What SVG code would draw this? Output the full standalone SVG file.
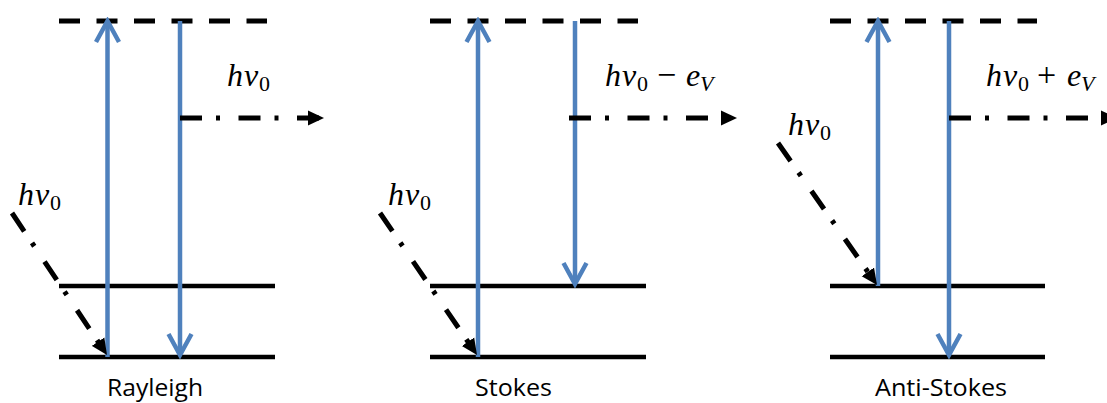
<svg xmlns="http://www.w3.org/2000/svg" width="1107" height="403" viewBox="0 0 1107 403">
<style>
.lvl{stroke:#000;stroke-width:4.5;fill:none}
.virt{stroke:#000;stroke-width:5;fill:none;stroke-dasharray:21 16.5}
.tr{stroke:#4F81BD;stroke-width:4.5;fill:none}
.ph{stroke:#000;stroke-width:5;fill:none;stroke-dasharray:22 14 4 18.5}
.m{font-family:"Liberation Serif",serif;font-style:italic;font-size:32px;fill:#000}
.sub{font-family:"Liberation Serif",serif;font-style:normal;font-size:22px}
.subi{font-family:"Liberation Serif",serif;font-style:italic;font-size:22px}
.op{font-style:normal;font-size:34px}
.cap{font-family:"Open Sans","Liberation Sans",sans-serif;font-size:24px;fill:#000}
</style>
<defs>
<marker id="tri" markerUnits="userSpaceOnUse" viewBox="0 0 16 16" refX="16" refY="8" markerWidth="16" markerHeight="16" orient="auto">
<path d="M0,0.5 L16,8 L0,15.5 Z" fill="#000"/>
</marker>
<marker id="chev" markerUnits="userSpaceOnUse" viewBox="-26 -16 30 32" refX="0" refY="0" markerWidth="30" markerHeight="32" orient="auto">
<path d="M-21,-11.5 L0,0 L-21,11.5" fill="none" stroke="#4F81BD" stroke-width="4.5"/>
</marker>
</defs>

<g id="rayleigh">
<line class="virt" x1="59" y1="21" x2="267" y2="21"/>
<line class="lvl" x1="59" y1="286" x2="275" y2="286"/>
<line class="lvl" x1="59" y1="357" x2="275" y2="357"/>
<text class="m" y="86"><tspan x="227">h</tspan><tspan x="244">v</tspan><tspan class="sub" x="259" dy="5">0</tspan></text>
<text class="m" y="205"><tspan x="18">h</tspan><tspan x="35">v</tspan><tspan class="sub" x="50" dy="5">0</tspan></text>
<text class="cap" x="107" y="396" textLength="96" lengthAdjust="spacingAndGlyphs">Rayleigh</text>
</g>

<g id="stokes">
<line class="virt" x1="430" y1="21" x2="638" y2="21"/>
<line class="lvl" x1="430" y1="286" x2="646" y2="286"/>
<line class="lvl" x1="430" y1="357" x2="646" y2="357"/>
<text class="m" y="86"><tspan x="605">h</tspan><tspan x="622">v</tspan><tspan class="sub" x="637" dy="5">0</tspan><tspan class="op" x="657" dy="-5">−</tspan><tspan x="686">e</tspan><tspan class="subi" x="700" dy="5">V</tspan></text>
<text class="m" y="205"><tspan x="388">h</tspan><tspan x="405">v</tspan><tspan class="sub" x="420" dy="5">0</tspan></text>
<text class="cap" x="475" y="396" textLength="77" lengthAdjust="spacingAndGlyphs">Stokes</text>
</g>

<g id="anti-stokes">
<line class="virt" x1="830" y1="21" x2="1037" y2="21"/>
<line class="lvl" x1="830" y1="286" x2="1045" y2="286"/>
<line class="lvl" x1="830" y1="357" x2="1045" y2="357"/>
<text class="m" y="86"><tspan x="986">h</tspan><tspan x="1003">v</tspan><tspan class="sub" x="1018" dy="5">0</tspan><tspan class="op" x="1037" dy="-5">+</tspan><tspan x="1067">e</tspan><tspan class="subi" x="1081" dy="5">V</tspan></text>
<text class="m" y="135"><tspan x="788">h</tspan><tspan x="805">v</tspan><tspan class="sub" x="820" dy="5">0</tspan></text>
<text class="cap" x="875" y="396" textLength="132" lengthAdjust="spacingAndGlyphs">Anti-Stokes</text>
</g>

<g id="connectors">
<line class="tr" x1="107.5" y1="357" x2="107.5" y2="21" marker-end="url(#chev)"/>
<line class="tr" x1="180" y1="21" x2="180" y2="355" marker-end="url(#chev)"/>
<line class="ph" x1="180" y1="118" x2="324" y2="118" marker-end="url(#tri)"/>
<line class="ph" x1="12" y1="213" x2="107" y2="355" marker-end="url(#tri)"/>

<line class="tr" x1="478" y1="357" x2="478" y2="21" marker-end="url(#chev)"/>
<line class="tr" x1="575" y1="21" x2="575" y2="284" marker-end="url(#chev)"/>
<line class="ph" x1="569" y1="118" x2="737" y2="118" marker-end="url(#tri)"/>
<line class="ph" x1="380" y1="213" x2="477" y2="355" marker-end="url(#tri)"/>

<line class="tr" x1="878" y1="286" x2="878" y2="21" marker-end="url(#chev)"/>
<line class="tr" x1="949" y1="21" x2="949" y2="355" marker-end="url(#chev)"/>
<line class="ph" x1="949" y1="118" x2="1117" y2="118" marker-end="url(#tri)"/>
<line class="ph" x1="778" y1="143" x2="877" y2="285" marker-end="url(#tri)"/>
</g>
</svg>
